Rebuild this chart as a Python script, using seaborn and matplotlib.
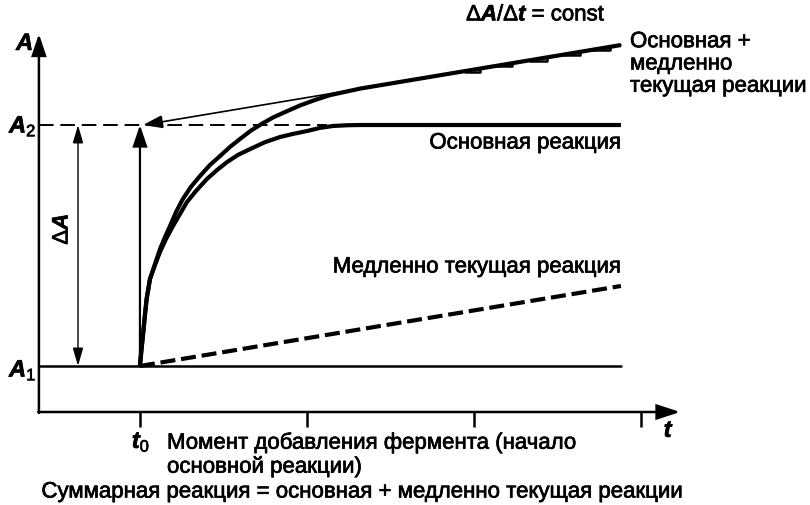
import matplotlib
matplotlib.use("Agg")
import matplotlib.pyplot as plt
import matplotlib.patheffects as pe
import seaborn as sns

# values (t in tick units from t0, A in units of A2 - A1)
main_t = [0.000, 0.006, 0.012, 0.020, 0.030, 0.040, 0.060, 0.090, 0.120, 0.156,
          0.198, 0.240, 0.281, 0.335, 0.401, 0.461, 0.521, 0.587, 0.659, 0.749,
          0.838, 0.916, 1.000, 1.078, 1.156, 1.240, 1.317, 2.880]
main_a = [0.000, 0.050, 0.091, 0.141, 0.216, 0.278, 0.361, 0.419, 0.473, 0.527,
          0.581, 0.631, 0.680, 0.726, 0.776, 0.813, 0.846, 0.876, 0.900, 0.929,
          0.950, 0.963, 0.975, 0.988, 0.996, 0.999, 1.000, 1.000]

sum_t = [0.000, 0.020, 0.040, 0.060, 0.090, 0.120, 0.150, 0.180, 0.216, 0.257,
         0.305, 0.359, 0.419, 0.479, 0.539, 0.599, 0.665, 0.737, 0.796, 0.856,
         0.958, 1.048, 1.138, 1.317, 2.880]
sum_a = [0.000, 0.141, 0.278, 0.361, 0.423, 0.485, 0.535, 0.581, 0.639, 0.693,
         0.743, 0.788, 0.834, 0.871, 0.909, 0.942, 0.977, 1.008, 1.031, 1.050,
         1.081, 1.104, 1.124, 1.151, 1.332]

slow_t = [0, 2.880]
slow_a = [0, 0.332]

tangent_t = [2.880, 0.018]
tangent_a = [1.332, 1.000]

step_t0 = [1.946, 2.138, 2.335, 2.533, 2.713]
step_t1 = [2.036, 2.228, 2.437, 2.635, 2.814]
step_lo = [1.222, 1.244, 1.267, 1.290, 1.311]
step_hi = [1.234, 1.256, 1.281, 1.304, 1.324]

a1, a2 = 0.0, 1.0
tick_t = [0, 1, 2, 3]
t_axis, a_axis = -0.605, -0.191
t_end, a_top, t_tip = 2.880, 1.378, 3.234

sns.set_theme(style="white")
plt.rcParams["font.family"] = ["Liberation Sans", "DejaVu Sans"]
plt.rcParams["mathtext.fontset"] = "custom"
plt.rcParams["mathtext.it"] = "Liberation Sans:italic:bold"
plt.rcParams["mathtext.rm"] = "Liberation Sans"

fig = plt.figure(figsize=(8.1, 5.06), dpi=100)
ax = fig.add_axes([0, 0, 1, 1])
ax.set_xlim(-0.838, 4.012)
ax.set_ylim(-0.577, 1.523)
ax.axis("off")

k = "black"


def arrow(tip, tail, lw, hl, hw, style="-|>"):
    ax.annotate("", xy=tip, xytext=tail,
                arrowprops=dict(arrowstyle=f"{style},head_length={hl},head_width={hw}",
                                lw=lw, color=k, shrinkA=0, shrinkB=0,
                                mutation_scale=20, joinstyle="miter"))


# axes with arrows and ticks
arrow((t_axis, a_top), (t_axis, a_axis - 0.004), 1.8, 0.65, 0.22)
arrow((t_tip, a_axis), (t_axis - 0.004, a_axis), 1.8, 0.7, 0.23)
ax.vlines(tick_t, a_axis - 0.063, a_axis, color=k, lw=1.8)

# reference levels
ax.plot([t_axis, t_end], [a1, a1], color=k, lw=1.8)
ax.plot([t_axis, 1.12], [a2, a2], color=k, lw=1.4, dashes=(7.5, 3.5))

# curves
sns.lineplot(x=slow_t, y=slow_a, ax=ax, color=k, lw=3.0)
ax.lines[-1].set_dashes((3.6, 1.4))
sns.lineplot(x=main_t, y=main_a, ax=ax, color=k, lw=3.0,
             solid_joinstyle="round", solid_capstyle="butt")
sns.lineplot(x=sum_t, y=sum_a, ax=ax, color=k, lw=3.0,
             solid_joinstyle="round", solid_capstyle="butt")
for t0, t1, lo, hi in zip(step_t0, step_t1, step_lo, step_hi):
    ax.plot([t0, t1, t1], [lo, lo, hi], color=k, lw=1.8)

# tangent extrapolated back to t0
arrow((tangent_t[1], tangent_a[1]), (tangent_t[0], tangent_a[0]), 1.2, 0.6, 0.2)

# delta A and rise arrows
arrow((-0.371, a2), (-0.371, a1), 1.0, 0.55, 0.16, style="<|-|>")
arrow((0.0, a2), (0.0, a1), 1.6, 0.65, 0.22)

heavy = [pe.withStroke(linewidth=0.5, foreground=k)]


def label(px, py, s, size=16, **kw):
    fig.text(px / 810, 1 - py / 506, s, fontsize=size, color=k,
             path_effects=heavy, **kw)


label(25, 45, "$A$", size=17, ha="center", va="center")
label(23, 127, "$A_2$", size=17, ha="center", va="center")
label(23, 371, "$A_1$", size=17, ha="center", va="center")
label(62, 230, "Δ$A$", ha="center", va="center", rotation=90)
label(141, 443, "$t_0$", size=17, ha="center", va="center")
label(669, 432, "$t$", size=17, ha="center", va="center")
label(536, 16, "Δ$A$/Δ$t$ = const", ha="center", va="center")
label(630, 65, "Основная +\nмедленно\nтекущая реакции", ha="left", va="center",
      linespacing=1.08)
label(621, 144, "Основная реакция", ha="right", va="center")
label(621, 268, "Медленно текущая реакция", ha="right", va="center")
label(167, 456, "Момент добавления фермента (начало\nосновной реакции)",
      ha="left", va="center", linespacing=1.15)
label(362, 493, "Суммарная реакция = основная + медленно текущая реакции",
      ha="center", va="center")

fig.savefig("out.png", dpi=100)
